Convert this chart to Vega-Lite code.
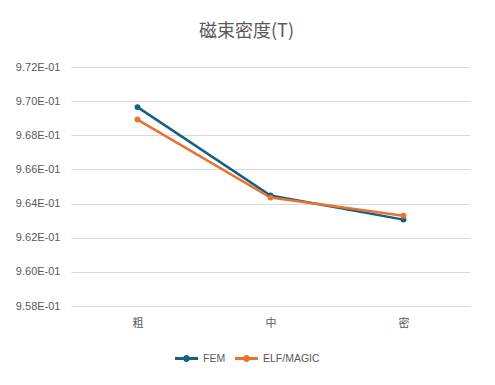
{
  "$schema": "https://vega.github.io/schema/vega-lite/v6.json",
  "autosize": {"type": "none"},
  "width": 399,
  "height": 239,
  "padding": {"left": 71, "top": 67, "right": 25, "bottom": 79},
  "background": "white",
  "title": {
    "text": "磁束密度(T)",
    "font": "Noto Sans CJK JP",
    "fontSize": 18,
    "fontWeight": "normal",
    "color": "#595959",
    "anchor": "middle",
    "dx": -24,
    "offset": 20
  },
  "data": {
    "values": [
      {"level": "粗", "series": "FEM", "value": 0.96965},
      {"level": "中", "series": "FEM", "value": 0.96447},
      {"level": "密", "series": "FEM", "value": 0.96306},
      {"level": "粗", "series": "ELF/MAGIC", "value": 0.96892},
      {"level": "中", "series": "ELF/MAGIC", "value": 0.96435},
      {"level": "密", "series": "ELF/MAGIC", "value": 0.96329}
    ]
  },
  "mark": {"type": "line", "strokeWidth": 2.5, "point": {"size": 35, "filled": true, "opacity": 1}},
  "encoding": {
    "x": {
      "field": "level",
      "type": "nominal",
      "sort": ["粗", "中", "密"],
      "scale": {"type": "point", "padding": 0.5},
      "axis": {
        "title": null,
        "domain": false,
        "ticks": false,
        "grid": false,
        "labelAngle": 0,
        "labelFont": "Noto Sans CJK JP",
        "labelFontSize": 11,
        "labelColor": "#595959",
        "labelPadding": 11
      }
    },
    "y": {
      "field": "value",
      "type": "quantitative",
      "scale": {"domain": [0.958, 0.972], "nice": false, "zero": false},
      "axis": {
        "title": null,
        "domain": false,
        "ticks": false,
        "values": [0.958, 0.96, 0.962, 0.964, 0.966, 0.968, 0.97, 0.972],
        "labelExpr": "format(datum.value * 10, '.2f') + 'E-01'",
        "labelFont": "Liberation Sans",
        "labelFontSize": 11,
        "labelColor": "#595959",
        "labelPadding": 11,
        "gridColor": "#d9d9d9",
        "gridWidth": 1
      }
    },
    "color": {
      "field": "series",
      "type": "nominal",
      "scale": {"domain": ["FEM", "ELF/MAGIC"], "range": ["#156082", "#E97132"]},
      "legend": {
        "title": null,
        "orient": "none",
        "direction": "horizontal",
        "legendX": 104,
        "legendY": 280,
        "symbolType": "M-1,-0.13L1,-0.13L1,0.13L-1,0.13Z M-0.3,0A0.3,0.3,0,1,1,0.3,0A0.3,0.3,0,1,1,-0.3,0Z",
        "symbolSize": 529,
        "symbolStrokeWidth": 0,
        "symbolOpacity": 1,
        "labelFont": "Liberation Sans",
        "labelFontSize": 10.5,
        "labelColor": "#595959",
        "labelOffset": 5,
        "columnPadding": 9
      }
    }
  },
  "config": {
    "view": {"stroke": null}
  }
}
